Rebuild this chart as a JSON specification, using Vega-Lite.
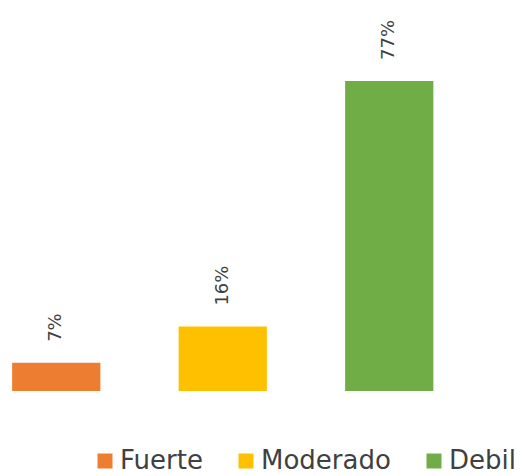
{
  "$schema": "https://vega.github.io/schema/vega-lite/v6.json",
  "width": 529,
  "height": 476,
  "autosize": "none",
  "padding": 0,
  "background": "white",
  "data": {"values": [
    {"cat": "Fuerte", "pct": 7, "label": "7%"},
    {"cat": "Moderado", "pct": 16, "label": "16%"},
    {"cat": "Debil", "pct": 77, "label": "77%"}
  ]},
  "encoding": {
    "x": {"field": "cat", "type": "nominal", "sort": ["Fuerte", "Moderado", "Debil"],
      "scale": {"range": [-27, 472.5], "paddingInner": 0.47, "paddingOuter": 0.235}, "axis": null},
    "y": {"field": "pct", "type": "quantitative", "scale": {"domain": [-21.1, 97.1], "nice": false, "zero": false}, "axis": null}
  },
  "layer": [
    {"mark": {"type": "bar"},
     "encoding": {
       "y2": {"datum": 0},
       "color": {"field": "cat", "type": "nominal", "sort": ["Fuerte", "Moderado", "Debil"],
         "scale": {"domain": ["Fuerte", "Moderado", "Debil"], "range": ["#ED7D31", "#FFC000", "#70AD47"]},
         "legend": {"title": null, "orient": "none", "direction": "horizontal", "legendX": 92, "legendY": 448,
           "symbolType": "square", "symbolSize": 225, "symbolStrokeWidth": 0, "symbolOpacity": 1,
           "labelFont": "DejaVu Sans", "labelFontSize": 26, "labelColor": "#404040", "labelOffset": 2,
           "columnPadding": 30, "labelLimit": 300, "padding": 0}
       }
     }},
    {"mark": {"type": "text", "angle": 270, "align": "left", "baseline": "middle", "dx": 21,
       "font": "DejaVu Sans", "fontSize": 18, "color": "#404040"},
     "encoding": {"text": {"field": "label"}}}
  ],
  "config": {"view": {"stroke": null}}
}
